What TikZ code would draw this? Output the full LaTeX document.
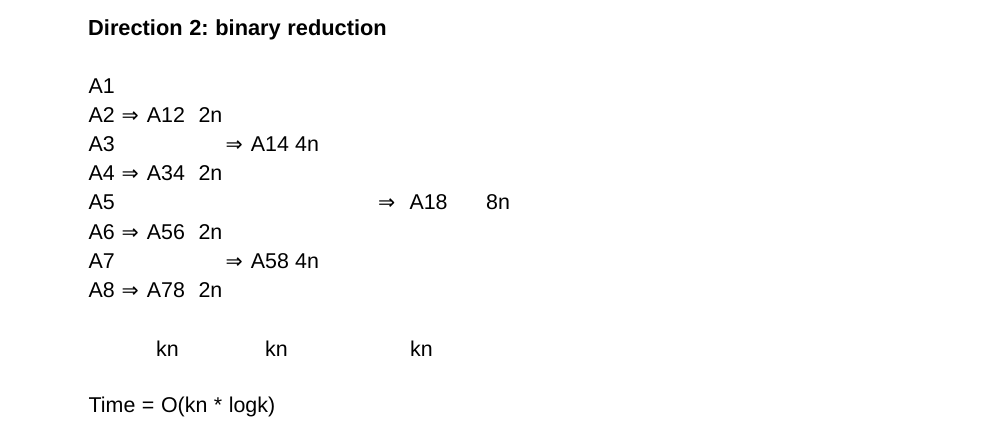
\documentclass[tikz,border=0pt]{standalone}
\usepackage{fontspec}
\setmainfont{Liberation Sans}[WordSpace=1.1]
\newfontfamily\arrfont{DejaVu Sans}
\usetikzlibrary{positioning}
\frenchspacing

\begin{document}
\begin{tikzpicture}[x=1pt,y=-1pt,
   txt/.style={anchor=base west,inner sep=0pt,font=\fontsize{21.4}{24}\selectfont},
   hd/.style={anchor=base west,inner sep=0pt,font=\fontsize{21.8}{24}\selectfont\bfseries},
   arr/.style={anchor=base west,inner sep=0pt,font=\arrfont\fontsize{20.5}{24}\selectfont}]
  \useasboundingbox (0,0) rectangle (1006,433);
  \node[hd] (title) at (88,36) {Direction 2: binary reduction};
  % inputs
  \node[txt] (a1) at (88.5,93.5) {A1};
  \node[txt] (a2) at (88.5,122.6) {A2};
  \node[txt] (a3) at (88.5,151.7) {A3};
  \node[txt] (a4) at (88.5,180.8) {A4};
  \node[txt] (a5) at (88.5,209.9) {A5};
  \node[txt] (a6) at (88.5,239) {A6};
  \node[txt] (a7) at (88.5,268.1) {A7};
  \node[txt] (a8) at (88.5,297.2) {A8};
  % first level
  \node[arr] (r12) at (121.5,122.6) {⇒};
  \node[txt] (a12) at (146.7,122.6) {A12};
  \node[txt] (c12) at (198.3,122.6) {2n};
  \node[arr] (r34) at (121.5,180.8) {⇒};
  \node[txt] (a34) at (146.7,180.8) {A34};
  \node[txt] (c34) at (198.3,180.8) {2n};
  \node[arr] (r56) at (121.5,239) {⇒};
  \node[txt] (a56) at (146.7,239) {A56};
  \node[txt] (c56) at (198.3,239) {2n};
  \node[arr] (r78) at (121.5,297.2) {⇒};
  \node[txt] (a78) at (146.7,297.2) {A78};
  \node[txt] (c78) at (198.3,297.2) {2n};
  % second level
  \node[arr] (r14) at (225.5,151.7) {⇒};
  \node[txt] (a14) at (250.7,151.7) {A14};
  \node[txt] (c14) at (295,151.7) {4n};
  \node[arr] (r58) at (225.5,268.1) {⇒};
  \node[txt] (a58) at (250.7,268.1) {A58};
  \node[txt] (c58) at (295,268.1) {4n};
  % third level
  \node[arr] (r18) at (378,209.9) {⇒};
  \node[txt] (a18) at (409.3,209.9) {A18};
  \node[txt] (c18) at (486,209.9) {8n};
  % cost per level
  \node[txt] (k1) at (156,356) {kn};
  \node[txt] (k2) at (265,356) {kn};
  \node[txt] (k3) at (410,356) {kn};
  \node[txt] (time) at (88.5,412) {Time = O(kn * logk)};
\end{tikzpicture}
\end{document}
